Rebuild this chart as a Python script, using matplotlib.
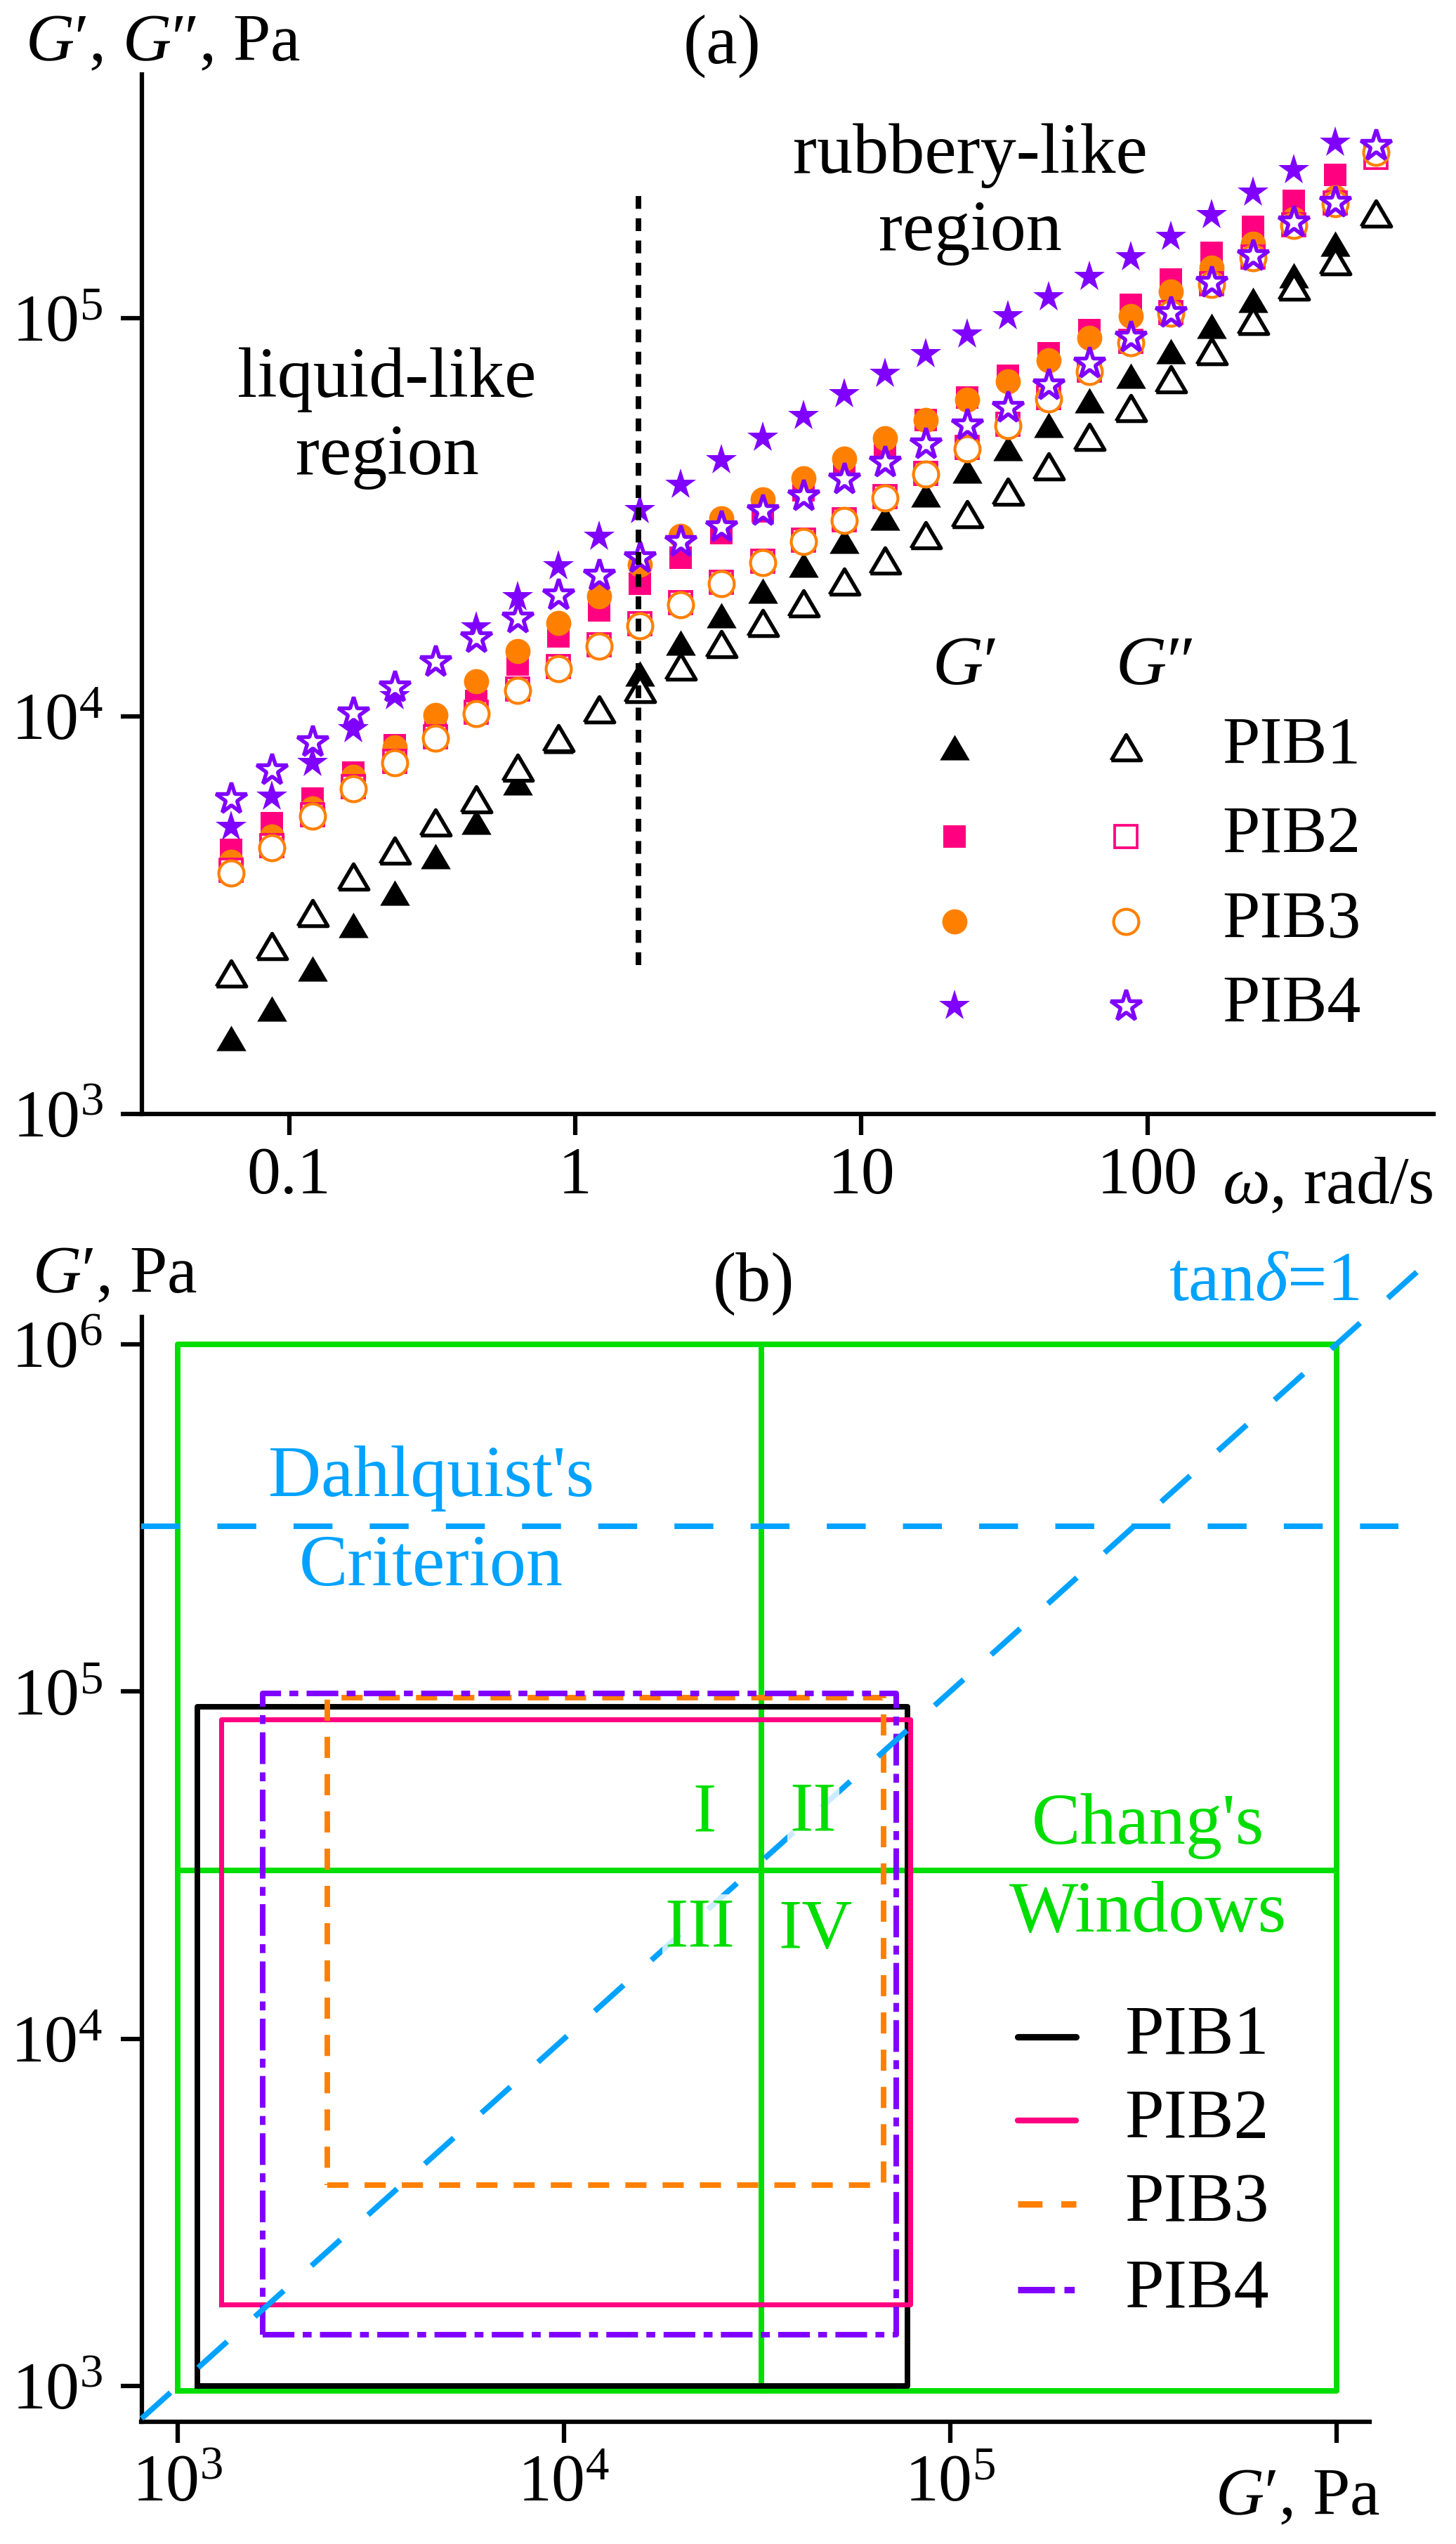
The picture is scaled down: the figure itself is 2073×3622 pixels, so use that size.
import matplotlib
matplotlib.use("Agg")
from matplotlib import pyplot as plt
from matplotlib.ticker import NullLocator

plt.rcParams['font.family'] = ['Liberation Serif', 'DejaVu Serif']
plt.rcParams['mathtext.fontset'] = 'custom'
plt.rcParams['mathtext.rm'] = 'Liberation Serif'
plt.rcParams['mathtext.it'] = 'Liberation Serif:italic'
plt.rcParams['mathtext.bf'] = 'Liberation Serif:bold'
plt.rcParams['font.size'] = 23

# ---- data, panel (a): frequency sweep ----
omega = [0.0628, 0.0873, 0.121, 0.168, 0.234, 0.325, 0.452, 0.628, 0.873, 1.21,
         1.68, 2.34, 3.25, 4.52, 6.28, 8.73, 12.1, 16.8, 23.4, 32.5,
         45.2, 62.8, 87.3, 121, 168, 234, 325, 452, 628]

g1_storage = [1554, 1843, 2316, 2990, 3603, 4443, 5420, 6800, 8650, 10300,
              12800, 15300, 17900, 20700, 24050, 27600, 31600, 36000, 41400, 47100,
              54000, 62200, 71600, 82800, 95800, 111000, 128000, 154000]
g1_loss = [2259, 2640, 3201, 3955, 4595, 5400, 6190, 7420, 8800, 10400,
           11690, 13300, 15200, 17150, 19200, 21770, 24600, 28500, 32200, 36700,
           42500, 50300, 59400, 70300, 82750, 98600, 120000, 139000, 183000]

g2_storage = [4610, 5375, 6201, 7213, 8447, 9408, 10910, 13460, 15860, 18440,
              21540, 24980, 28790, 32720, 36950, 42280, 48200, 55440, 63230, 71680,
              81800, 93470, 108200, 125300, 145850, 169900, 197300, 229300]
g2_loss = [4100, 4720, 5650, 6650, 7700, 8880, 10230, 11700, 13300, 15100,
           17050, 19250, 21700, 24500, 27700, 31200, 35600, 40800, 47300, 54200,
           63300, 74000, 87500, 103500, 122300, 142500, 171500, 194500, 254000]

g3_storage = [4298, 4991, 5870, 7039, 8334, 10065, 12240, 14590, 17130, 19990,
              23990, 28410, 31420, 35020, 39520, 44330, 49830, 55590, 62370, 69500,
              78450, 89180, 101340, 116600, 134150, 153700, 177300, 201600]
g3_loss = [4036, 4664, 5596, 6579, 7631, 8795, 10135, 11595, 13175, 14960,
           16890, 19070, 21540, 24310, 27460, 30990, 35300, 40500, 46980, 53780,
           62800, 73320, 86800, 102800, 121600, 142000, 171000, 194000, 261000]

g4_storage = [5268, 6277, 7631, 9284, 11210, 13700, 16700, 19890, 23850, 28210,
              32950, 38210, 44040, 50060, 56900, 64500, 72700, 81450, 91100, 101370,
              113100, 127050, 142600, 160500, 182100, 207450, 236100, 276600]
g4_loss = [6194, 7328, 8620, 10205, 11834, 13730, 15710, 17620, 20150, 22580,
           24970, 27460, 29970, 32900, 35830, 39450, 43500, 48300, 53870, 59770,
           67950, 77000, 89500, 103300, 123200, 143750, 174600, 195550, 271650]

omega_border = 1.66
border_span = [2370, 206000]

# ---- data, panel (b): Chang's windows ----
samples = ['PIB1', 'PIB2', 'PIB3', 'PIB4']
box_x_min = [1125, 1297, 2440, 1660]
box_x_max = [77600, 79000, 67300, 72600]
box_y_min = [1000, 1714, 3784, 1404]
box_y_max = [90400, 83200, 96200, 98600]

window_lo = [1000, 970]
window_hi = [1e6, 1e6]
chang_split = [32500, 30500]
dahlquist = 3e5
tan_delta_one = [806, 1.62e6]

black = 'black'
pink = '#ff0080'
orange = '#ff8000'
purple = '#8000ff'
green = '#00dd00'
blue = '#00a2ff'
colors = [black, pink, orange, purple]

W, H = 2073, 3622
fig = plt.figure(figsize=(W / 300, H / 300), dpi=300)

tri = [(-1, -0.85), (1, -0.85), (0, 0.85), (-1, -0.85)]
markers = [tri, 's', 'o', '*']
msizes = [10.2, 7.6, 8.6, 11]
mews = [1.3, 0.9, 1.0, 1.3]

storage = [g1_storage, g2_storage, g3_storage, g4_storage]
loss = [g1_loss, g2_loss, g3_loss, g4_loss]

# ================= panel (a) =================
ax = fig.add_axes([202 / W, (H - 1586) / H, (2041 - 202) / W, (1586 - 106) / H])
ax.set_xscale('log')
ax.set_yscale('log')
ax.set_xlim(0.0306, 1000)
ax.set_ylim(1000, 4.1e5)

for i in range(4):
    ax.plot(omega[:len(storage[i])], storage[i], ls='none', marker=markers[i],
            ms=msizes[i], mfc=colors[i], mec=colors[i], mew=0, zorder=2 + i * 0.1)
for i in range(4):
    ax.plot(omega[:len(loss[i])], loss[i], ls='none', marker=markers[i],
            ms=msizes[i], mfc='white', mec=colors[i], mew=mews[i], zorder=3 + i * 0.1)

ax.plot([omega_border, omega_border], border_span, color='black', lw=1.9,
        ls=(0, (2.3, 1.7)), zorder=5)

ax.text(2.2e-1, 5.6e4, 'liquid-like\nregion', ha='center', va='center',
        fontsize=24.5, linespacing=1.25)
ax.text(2.4e1, 2.05e5, 'rubbery-like\nregion', ha='center', va='center',
        fontsize=24.5, linespacing=1.25)

# legend drawn by hand: G' column, G'' column, sample names
lx = [0.6292, 0.7618]
ly = [0.3527, 0.2669, 0.1851, 0.1041]
ax.text(0.6368, 0.4297, "$G$′", transform=ax.transAxes, ha='center', va='center', fontsize=24)
ax.text(0.7836, 0.4297, "$G$″", transform=ax.transAxes, ha='center', va='center', fontsize=24)
for i in range(4):
    ax.plot([lx[0]], [ly[i]], transform=ax.transAxes, ls='none', marker=markers[i],
            ms=msizes[i], mfc=colors[i], mec=colors[i], mew=0, clip_on=False)
    ax.plot([lx[1]], [ly[i]], transform=ax.transAxes, ls='none', marker=markers[i],
            ms=msizes[i], mfc='white', mec=colors[i], mew=mews[i], clip_on=False)
    ax.text(0.8363, ly[i], samples[i], transform=ax.transAxes, ha='left', va='center',
            fontsize=23)

ax.set_xticks([0.1, 1, 10, 100], ['0.1', '1', '10', '100'])
ax.set_yticks([1e3, 1e4, 1e5], [r'$10^{3}$', r'$10^{4}$', r'$10^{5}$'])
ax.xaxis.set_minor_locator(NullLocator())
ax.yaxis.set_minor_locator(NullLocator())
for s in ['top', 'right']:
    ax.spines[s].set_visible(False)
for s in ['left', 'bottom']:
    ax.spines[s].set_linewidth(1.5)
ax.tick_params(direction='out', length=7.2, width=1.5, labelsize=23)
ax.tick_params(axis='x', pad=4)
ax.tick_params(axis='y', pad=6)

fig.text(36 / W, (H - 86) / H, "$G$′, $G$″, Pa", ha='left', va='baseline', fontsize=23)
fig.text(1740 / W, (H - 1713) / H, r'$\omega$, rad/s', ha='left', va='baseline', fontsize=23)
fig.text(1028 / W, (H - 66) / H, '(a)', ha='center', va='center', fontsize=24)

# ================= panel (b) =================
bx = fig.add_axes([201.5 / W, (H - 3448) / H, (1950 - 201.5) / W, (3448 - 1875) / H])
bx.set_xscale('log')
bx.set_yscale('log')
bx.set_xlim(806, 1.22e6)
bx.set_ylim(789, 1.2e6)

# Chang's windows
bx.plot([window_lo[0], window_hi[0], window_hi[0], window_lo[0], window_lo[0]],
        [window_lo[1], window_lo[1], window_hi[1], window_hi[1], window_lo[1]],
        color=green, lw=1.9, zorder=1)
bx.plot([chang_split[0], chang_split[0]], [window_lo[1], window_hi[1]], color=green, lw=1.9, zorder=1)
bx.plot([window_lo[0], window_hi[0]], [chang_split[1], chang_split[1]], color=green, lw=1.9, zorder=1)

styles = ['-', '-', (0, (3.8, 2.9)), (0, (5.7, 1.5, 1.6, 1.5))]
lws = [1.9, 1.7, 1.9, 1.9]
for i in range(4):
    bx.plot([box_x_min[i], box_x_max[i], box_x_max[i], box_x_min[i], box_x_min[i]],
            [box_y_min[i], box_y_min[i], box_y_max[i], box_y_max[i], box_y_min[i]],
            color=colors[i], lw=lws[i], ls=styles[i], zorder=2)

bx.plot([806, 1.45e6], [dahlquist, dahlquist], color=blue, lw=1.9,
        ls=(0, (7.0, 6.7)), zorder=3, clip_on=False)
bx.plot(tan_delta_one, tan_delta_one, color=blue, lw=1.9,
        ls=(0, (7.0, 6.7)), zorder=3, clip_on=False)

bx.text(4540, 4.11e5, "Dahlquist's", color=blue, ha='center', va='center', fontsize=25)
bx.text(4540, 2.28e5, 'Criterion', color=blue, ha='center', va='center', fontsize=25)
bx.text(3.25e5, 4.09e4, "Chang's", color=green, ha='center', va='center', fontsize=25)
bx.text(3.25e5, 2.29e4, 'Windows', color=green, ha='center', va='center', fontsize=25)
bx.text(6.49e5, 1.5e6, r'tan$\delta$=1', color=blue, ha='center', va='center',
        fontsize=24, clip_on=False)

box_kw = dict(facecolor='white', edgecolor='none', alpha=0.8, pad=1)
bx.text(10 ** 4.364, 10 ** 4.647, 'I', color=green, ha='center', va='center', fontsize=24, bbox=box_kw, zorder=4)
bx.text(10 ** 4.646, 10 ** 4.649, 'II', color=green, ha='center', va='center', fontsize=24, bbox=box_kw, zorder=4)
bx.text(10 ** 4.352, 10 ** 4.317, 'III', color=green, ha='center', va='center', fontsize=24, bbox=box_kw, zorder=4)
bx.text(10 ** 4.652, 10 ** 4.311, 'IV', color=green, ha='center', va='center', fontsize=24, bbox=box_kw, zorder=4)

# legend drawn by hand
ry = [0.3484, 0.2727, 0.1970, 0.1195]
for i in range(4):
    bx.plot([0.7135, 0.7610], [ry[i], ry[i]], transform=bx.transAxes, color=colors[i],
            lw=lws[i] + 0.3, ls=styles[i], solid_capstyle='round', clip_on=False, zorder=5)
    bx.text(0.8004, ry[i], samples[i], transform=bx.transAxes, ha='left', va='center',
            fontsize=24)

bx.set_xticks([1e3, 1e4, 1e5, 1e6], [r'$10^{3}$', r'$10^{4}$', r'$10^{5}$', ''])
bx.set_yticks([1e3, 1e4, 1e5, 1e6], [r'$10^{3}$', r'$10^{4}$', r'$10^{5}$', r'$10^{6}$'])
bx.xaxis.set_minor_locator(NullLocator())
bx.yaxis.set_minor_locator(NullLocator())
for s in ['top', 'right']:
    bx.spines[s].set_visible(False)
for s in ['left', 'bottom']:
    bx.spines[s].set_linewidth(1.5)
bx.tick_params(direction='out', length=7.2, width=1.5, labelsize=23)
bx.tick_params(axis='x', pad=4)
bx.tick_params(axis='y', pad=6)

fig.text(46 / W, (H - 1840) / H, "$G$′, Pa", ha='left', va='baseline', fontsize=23)
fig.text(1730 / W, (H - 3580) / H, "$G$′, Pa", ha='left', va='baseline', fontsize=23)
fig.text(1073 / W, (H - 1828) / H, '(b)', ha='center', va='center', fontsize=24)

fig.savefig('out.png', dpi=300)
